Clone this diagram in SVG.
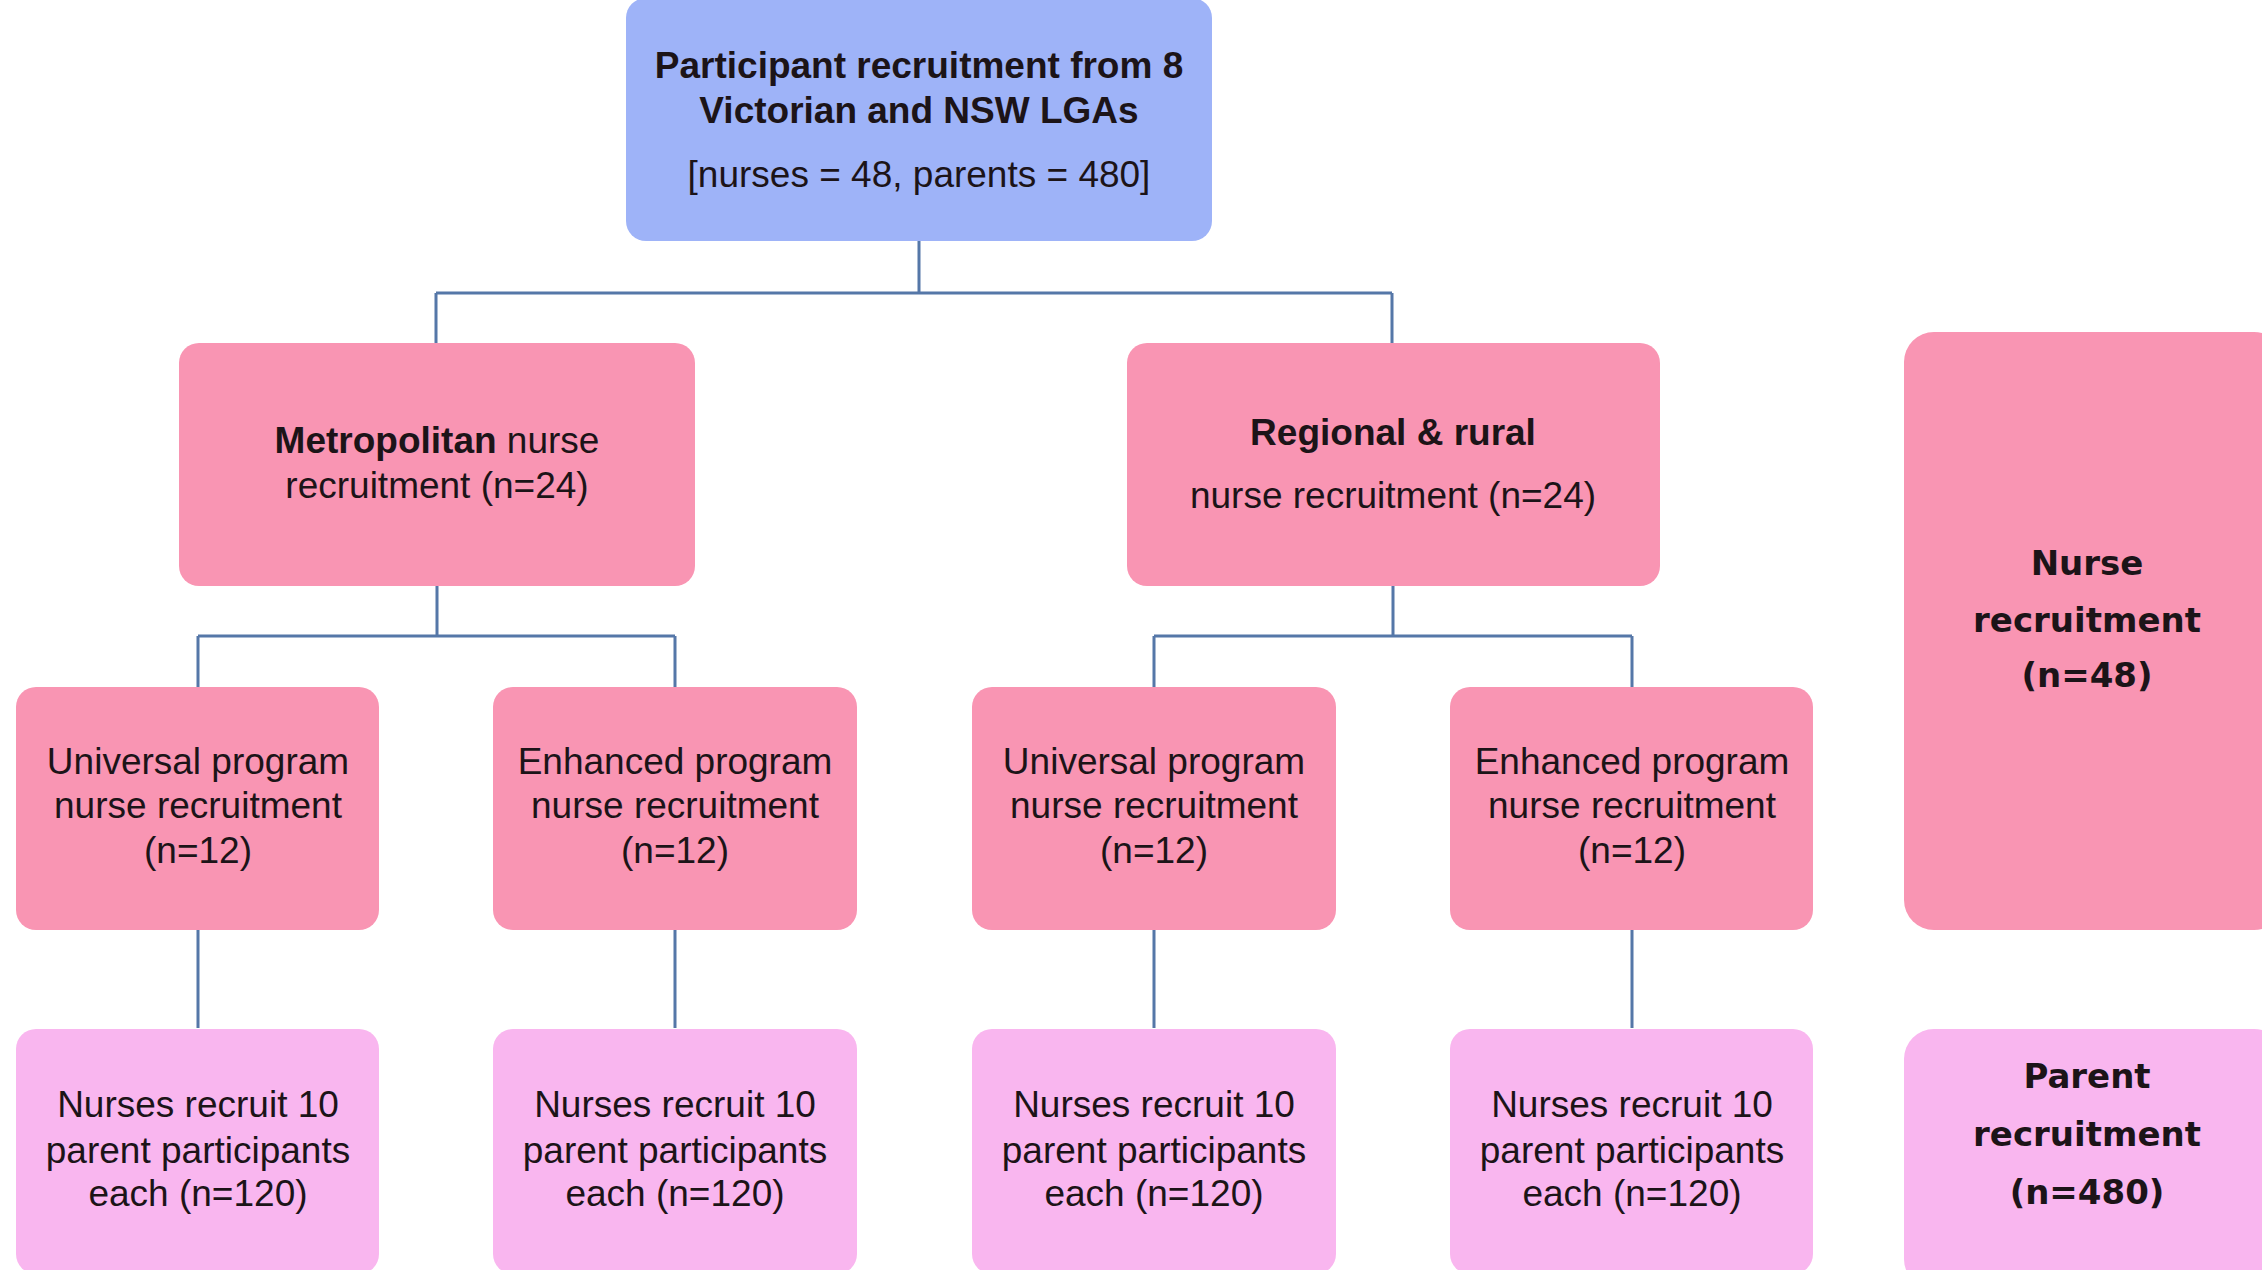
<svg xmlns="http://www.w3.org/2000/svg" width="2262" height="1270" viewBox="0 0 2262 1270">
<style>
.blue{fill:#9eb3f8}
.pink{fill:#f995b3}
.lpink{fill:#f9b6ef}
.t{font-family:"Liberation Sans",Arial,sans-serif;font-size:37px;fill:#1c1418;text-anchor:middle}
.b{font-weight:bold}
.v{font-family:"DejaVu Sans",Verdana,sans-serif;font-size:34px;font-weight:bold;fill:#1c1418;text-anchor:middle}
.conn{fill:none;stroke:#5577a8;stroke-width:3}
</style>
<rect width="2262" height="1270" fill="#ffffff"/>
<g id="connectors">
<path class="conn" d="M919 241V293M436 293H1392M436 293V343M1392 293V343"/>
<path class="conn" d="M437 586V636M198 636H675M198 636V687M675 636V687"/>
<path class="conn" d="M1393 586V636M1154 636H1632M1154 636V687M1632 636V687"/>
<path class="conn" d="M198 930V1028M675 930V1028M1154 930V1028M1632 930V1028"/>
</g>
<g id="top">
<rect class="blue" x="626" y="-2" width="586" height="243" rx="20"/>
<text class="t b" x="919" y="78">Participant recruitment from 8</text>
<text class="t b" x="919" y="123">Victorian and NSW LGAs</text>
<text class="t" x="919" y="187">[nurses = 48, parents = 480]</text>
</g>
<g id="metro">
<rect class="pink" x="179" y="343" width="516" height="243" rx="20"/>
<text class="t" x="437" y="453"><tspan class="b">Metropolitan</tspan> nurse</text>
<text class="t" x="437" y="498">recruitment (n=24)</text>
</g>
<g id="regional">
<rect class="pink" x="1127" y="343" width="533" height="243" rx="20"/>
<text class="t b" x="1393" y="445">Regional &amp; rural</text>
<text class="t" x="1393" y="508">nurse recruitment (n=24)</text>
</g>
<g id="nurse-total">
<rect class="pink" x="1904" y="332" width="380" height="598" rx="30"/>
<text class="v" x="2087" y="575">Nurse</text>
<text class="v" x="2087" y="632">recruitment</text>
<text class="v" x="2087" y="687">(n=48)</text>
</g>
<g id="metro-universal">
<rect class="pink" x="16" y="687" width="363" height="243" rx="20"/>
<text class="t" x="198" y="774">Universal program</text>
<text class="t" x="198" y="818">nurse recruitment</text>
<text class="t" x="198" y="863">(n=12)</text>
</g>
<g id="metro-enhanced">
<rect class="pink" x="493" y="687" width="364" height="243" rx="20"/>
<text class="t" x="675" y="774">Enhanced program</text>
<text class="t" x="675" y="818">nurse recruitment</text>
<text class="t" x="675" y="863">(n=12)</text>
</g>
<g id="regional-universal">
<rect class="pink" x="972" y="687" width="364" height="243" rx="20"/>
<text class="t" x="1154" y="774">Universal program</text>
<text class="t" x="1154" y="818">nurse recruitment</text>
<text class="t" x="1154" y="863">(n=12)</text>
</g>
<g id="regional-enhanced">
<rect class="pink" x="1450" y="687" width="363" height="243" rx="20"/>
<text class="t" x="1632" y="774">Enhanced program</text>
<text class="t" x="1632" y="818">nurse recruitment</text>
<text class="t" x="1632" y="863">(n=12)</text>
</g>
<g id="parents-1">
<rect class="lpink" x="16" y="1029" width="363" height="245" rx="20"/>
<text class="t" x="198" y="1117">Nurses recruit 10</text>
<text class="t" x="198" y="1163">parent participants</text>
<text class="t" x="198" y="1206">each (n=120)</text>
</g>
<g id="parents-2">
<rect class="lpink" x="493" y="1029" width="364" height="245" rx="20"/>
<text class="t" x="675" y="1117">Nurses recruit 10</text>
<text class="t" x="675" y="1163">parent participants</text>
<text class="t" x="675" y="1206">each (n=120)</text>
</g>
<g id="parents-3">
<rect class="lpink" x="972" y="1029" width="364" height="245" rx="20"/>
<text class="t" x="1154" y="1117">Nurses recruit 10</text>
<text class="t" x="1154" y="1163">parent participants</text>
<text class="t" x="1154" y="1206">each (n=120)</text>
</g>
<g id="parents-4">
<rect class="lpink" x="1450" y="1029" width="363" height="245" rx="20"/>
<text class="t" x="1632" y="1117">Nurses recruit 10</text>
<text class="t" x="1632" y="1163">parent participants</text>
<text class="t" x="1632" y="1206">each (n=120)</text>
</g>
<g id="parent-total">
<rect class="lpink" x="1904" y="1029" width="380" height="260" rx="30"/>
<text class="v" x="2087" y="1088">Parent</text>
<text class="v" x="2087" y="1146">recruitment</text>
<text class="v" x="2087" y="1204">(n=480)</text>
</g>
</svg>
